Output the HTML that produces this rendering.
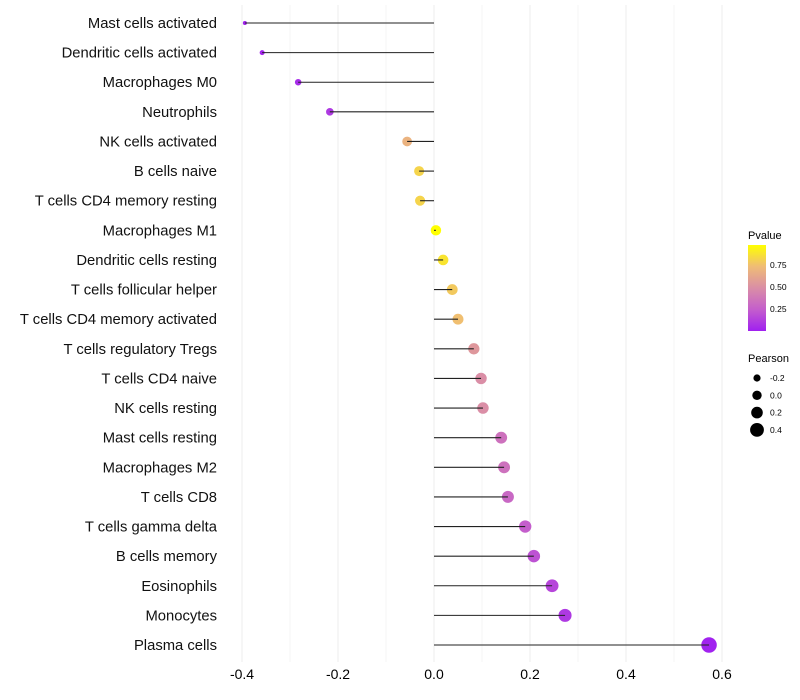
<!DOCTYPE html>
<html><head><meta charset="utf-8"><style>
body{margin:0;background:#fff;font-family:"Liberation Sans",sans-serif;}
svg{display:block}
</style></head><body>
<svg id="chart" width="800" height="700">
<defs><linearGradient id="pg" x1="0" y1="1" x2="0" y2="0">
<stop offset="0" stop-color="#a020f0"/><stop offset="0.25" stop-color="#c45ecc"/><stop offset="0.5" stop-color="#da8ea6"/><stop offset="0.75" stop-color="#efbc76"/><stop offset="1" stop-color="#ffff00"/>
</linearGradient></defs>
<g id="grid"></g><g id="marks"></g><g id="ylabels"></g><g id="xlabels"></g><g id="legend"></g>
</svg>
<script>
const categories=["Mast cells activated","Dendritic cells activated","Macrophages M0","Neutrophils","NK cells activated","B cells naive","T cells CD4 memory resting","Macrophages M1","Dendritic cells resting","T cells follicular helper","T cells CD4 memory activated","T cells regulatory  Tregs ","T cells CD4 naive","NK cells resting","Mast cells resting","Macrophages M2","T cells CD8","T cells gamma delta","B cells memory","Eosinophils","Monocytes","Plasma cells"];
const pearson=[-0.394,-0.358,-0.283,-0.217,-0.056,-0.031,-0.029,0.004,0.019,0.038,0.05,0.083,0.098,0.102,0.14,0.146,0.154,0.19,0.208,0.246,0.273,0.573];
const pvalue=[0.01,0.02,0.05,0.1,0.7,0.84,0.84,1.0,0.9,0.8,0.76,0.55,0.5,0.5,0.35,0.35,0.3,0.25,0.2,0.15,0.1,0.01];
const xTicks=[-0.4,-0.2,0.0,0.2,0.4,0.6];
const pTicks=[0.25,0.5,0.75];
const sizeTicks=[-0.2,0.0,0.2,0.4];
const NS="http://www.w3.org/2000/svg";
const x=v=>434+v*480;
const y=i=>23+i*(622/21);
const r=v=>Math.sqrt(Math.max(2,27+58*v));
const stops=[[0,[160,32,240]],[0.25,[196,94,204]],[0.5,[218,142,166]],[0.75,[239,188,118]],[1,[255,255,0]]];
function col(p){for(let k=1;k<stops.length;k++){if(p<=stops[k][0]){const a=stops[k-1],b=stops[k],t=(p-a[0])/(b[0]-a[0]);return "rgb("+a[1].map((c,j)=>Math.round(c+(b[1][j]-c)*t)).join(",")+")";}}return "rgb(255,255,0)";}
function mk(tag,at,parent){const e=document.createElementNS(NS,tag);for(const k in at)e.setAttribute(k,at[k]);document.getElementById(parent).appendChild(e);return e;}
for(let v=-0.4;v<=0.61;v+=0.1){const major=Math.abs(Math.round(v*10))%2===0;
const g=mk("line",{x1:x(v),x2:x(v),y1:5,y2:662,stroke:major?"#ececec":"#f5f5f5","stroke-width":1},"grid");

}
xTicks.forEach(t=>{const e=mk("text",{x:x(t),y:679,"text-anchor":"middle","font-size":14,fill:"#000"},"xlabels");e.textContent=t.toFixed(1);

});
categories.forEach((c,i)=>{
const t=mk("text",{x:217,y:y(i)+5,"text-anchor":"end","font-size":14.8,fill:"#111"},"ylabels");t.textContent=c;


t.setAttribute('xml:space','preserve');
const p=mk("circle",{cx:x(pearson[i]),cy:y(i),r:r(pearson[i]),fill:col(pvalue[i])},"marks");


const l=mk("line",{x1:x(0),x2:x(pearson[i]),y1:y(i),y2:y(i),stroke:"#222","stroke-width":1.1},"marks");

});
let e=mk("text",{x:748,y:239,"font-size":11},"legend");e.textContent="Pvalue";


e=mk("rect",{x:748,y:245,width:18,height:86,fill:"url(#pg)"},"legend");


pTicks.forEach(p=>{const yy=331-p*88;
const t=mk("text",{x:770,y:yy+3,"font-size":8.5},"legend");t.textContent=p.toFixed(2);

});
e=mk("text",{x:748,y:362,"font-size":11},"legend");e.textContent="Pearson";


sizeTicks.forEach((s,k)=>{const yy=378+k*17.3;
const c=mk("circle",{cx:757,cy:yy,r:3.6+k*1.1,fill:"#000"},"legend");


const t=mk("text",{x:770,y:yy+3,"font-size":8.5},"legend");t.textContent=s.toFixed(1);

});
</script>
</body></html>
